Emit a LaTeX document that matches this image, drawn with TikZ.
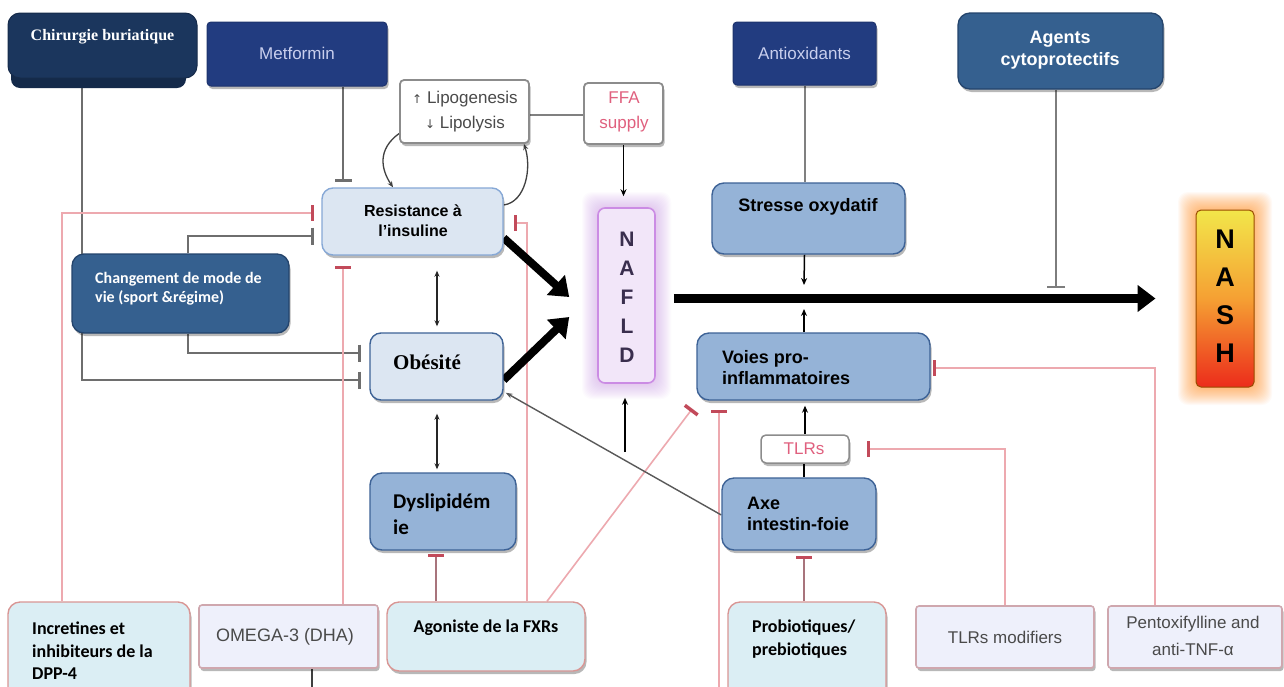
\documentclass[tikz,border=0pt]{standalone}
\usepackage{fontspec}
\usetikzlibrary{arrows.meta,shadows}
\newfontfamily\arialF{Liberation Sans}
\newfontfamily\timesF{Liberation Serif}
\newfontfamily\calF{Carlito}
\newfontfamily\symF{DejaVu Sans}

\pgfdeclarelayer{bg}
\pgfdeclarelayer{lines}
\pgfsetlayers{bg,lines,main}

\definecolor{navyA}{HTML}{1B365D}
\definecolor{navyS}{HTML}{142A4A}
\definecolor{royal}{HTML}{223C80}
\definecolor{royalT}{HTML}{C9CFEE}
\definecolor{steel}{HTML}{35608F}
\definecolor{steelD}{HTML}{24446C}
\definecolor{paleB}{HTML}{DCE6F2}
\definecolor{paleBD}{HTML}{86A8D6}
\definecolor{midB}{HTML}{95B3D7}
\definecolor{midBD}{HTML}{3D6296}
\definecolor{cyanL}{HTML}{DBEEF4}
\definecolor{rose}{HTML}{D99694}
\definecolor{lav}{HTML}{EEF0FB}
\definecolor{lavD}{HTML}{CFA7AE}
\definecolor{inhG}{HTML}{6E6E6E}
\definecolor{pinkL}{HTML}{EDA9AF}
\definecolor{pinkD}{HTML}{A8747C}
\definecolor{barR}{HTML}{C24A5A}
\definecolor{ffaP}{HTML}{E0607E}
\definecolor{naf}{HTML}{F2E6F9}
\definecolor{nafD}{HTML}{CB8CE4}
\definecolor{nafT}{HTML}{3A2E4E}
\definecolor{grayT}{HTML}{4A4A4A}
\definecolor{nashY}{HTML}{F2E64A}
\definecolor{nashO}{HTML}{F5A033}
\definecolor{nashR}{HTML}{EC2C1B}

\begin{document}
\begin{tikzpicture}[x=1pt,y=-1pt,
  softshadow/.style={drop shadow={shadow xshift=1.5pt,shadow yshift=-3pt,opacity=.28,fill=black}},
  navybox/.style={fill=navyA, draw=navyA!80!black, line width=1pt, rounded corners=12pt},
  royalbox/.style={fill=royal, draw=royal!85!black, line width=1pt, rounded corners=4pt, softshadow},
  steelbox/.style={fill=steel, draw=steelD, line width=1.3pt, rounded corners=12pt, softshadow},
  palebox/.style={fill=paleB, line width=1.4pt, rounded corners=11pt, softshadow},
  midbox/.style={fill=midB, draw=midBD, line width=1.4pt, rounded corners=12pt, softshadow},
  cyanbox/.style={fill=cyanL, draw=rose, line width=1.4pt, rounded corners=12pt, softshadow},
  lavbox/.style={fill=lav, draw=lavD, line width=1.6pt, rounded corners=3pt, softshadow},
  whitebox/.style={fill=white, draw=black!45, line width=1.8pt, rounded corners=4pt, softshadow},
  txt/.style={inner sep=0pt, align=center},
  txtl/.style={inner sep=0pt, align=left},
  arialB/.style={font=\arialF\bfseries\fontsize{18}{21}\selectfont},
  calB/.style={font=\calF\bfseries\fontsize{18}{22.5}\selectfont},
  helv/.style={font=\arialF\fontsize{17}{25}\selectfont},
  inhgray/.style={draw=inhG, line width=2.2pt, -{Bar[width=17pt,line width=3pt]}},
  inhpink/.style={draw=pinkL, line width=1.6pt, -{Bar[width=16pt,line width=3.5pt,color=barR]}},
  blkarrow/.style={draw=black, line width=1.5pt, -{Stealth[length=7pt,width=6pt]}},
  dbl/.style={draw=black!85, line width=1.2pt, {Stealth[length=6pt,width=5pt]}-{Stealth[length=6pt,width=5pt]}},
  fat/.style={draw=black, line width=8pt, -{Triangle[length=18pt,width=26pt]}},
]
\useasboundingbox (0,0) rectangle (1284,686);

\begin{pgfonlayer}{bg}
  \fill[white] (0,0) rectangle (1284,686);
  % soft halo round NAFLD
  \foreach \g in {1,...,16}{
    \fill[nafD, opacity=0.03, rounded corners=10pt] (598-\g,208-\g) rectangle (655+\g,383+\g);
  }
  % soft halo round NASH
  \foreach \g in {1,...,18}{
    \fill[orange, opacity=0.035, rounded corners=10pt] (1196-\g,210-\g) rectangle (1254+\g,387+\g);
  }
\end{pgfonlayer}

% free ends of connectors
\coordinate (cytoT) at (1056,288);
\coordinate (oxA) at (804,285);
\coordinate (oxB) at (804,309);
\coordinate (nfb) at (625,452);
\coordinate (loopL) at (312,690);
\coordinate (loopR) at (719,690);

% ---------- top row ----------
\fill[navyS, rounded corners=9pt] (11,40) rectangle (186,88);
\node[navybox, minimum width=189pt, minimum height=65pt] (chir) at (102.5,45.5) {};
\node[txt, text=white, font=\timesF\bfseries\fontsize{16}{19}\selectfont] (chirT) at (102.5,37) {Chirurgie buriatique};

\node[royalbox, minimum width=180pt, minimum height=64pt] (met) at (297,54) {};
\node[txt, text=royalT, helv] (metT) at (297,53) {Metformin};

\node[whitebox, minimum width=129pt, minimum height=63pt] (lipo) at (464.5,111.5) {};
\node[txt, text=grayT, font=\arialF\fontsize{17}{25}\selectfont] (lipoT) at (465,112)
  {{\symF\fontsize{12}{12}\selectfont↑} Lipogenesis\\{\symF\fontsize{12}{12}\selectfont↓} Lipolysis};

\node[whitebox, minimum width=79pt, minimum height=61pt] (ffa) at (623.5,113.5) {};
\node[txt, text=ffaP, font=\arialF\fontsize{17}{25}\selectfont] (ffaT) at (624,112) {FFA\\supply};

\node[royalbox, minimum width=143pt, minimum height=63pt] (anti) at (804.5,53.5) {};
\node[txt, text=royalT, helv] (antiT) at (804.5,53) {Antioxidants};

\node[steelbox, minimum width=205pt, minimum height=76pt] (agents) at (1060.5,51) {};
\node[txt, text=white, font=\arialF\bfseries\fontsize{18}{22}\selectfont] (agentsT) at (1060,50) {Agents\\cytoprotectifs};

% ---------- middle ----------
\node[palebox, draw=paleBD, minimum width=181pt, minimum height=67pt] (res) at (412.5,221.5) {};
\node[txt, font=\arialF\bfseries\fontsize{16}{20}\selectfont] (resT) at (413,221) {Resistance à\\l’insuline};

\node[fill=naf, draw=nafD, line width=1.6pt, rounded corners=7pt, minimum width=57pt, minimum height=175pt] (nafld) at (626.5,295.5) {};
\node[txt, text=nafT, font=\arialF\bfseries\fontsize{21}{29}\selectfont] (nafldT) at (627,297) {N\\A\\F\\L\\D};

\node[midbox, minimum width=193pt, minimum height=71pt] (stress) at (808.5,218.5) {};
\node[txt, arialB] (stressT) at (808,207) {Stresse oxydatif};

\node[draw=orange!60!black, line width=1pt, rounded corners=5pt, top color=nashY, bottom color=nashR, middle color=nashO,
      minimum width=58pt, minimum height=177pt] (nash) at (1225,298.5) {};
\node[txt, font=\arialF\bfseries\fontsize{27}{38}\selectfont] (nashT) at (1225,296) {N\\A\\S\\H};

\node[steelbox, minimum width=217pt, minimum height=79pt] (chg) at (180.5,293.5) {};
\node[txtl, anchor=west, text=white, font=\calF\bfseries\fontsize{16}{19}\selectfont] (chgT) at (95,288.5) {Changement de mode de\\vie (sport \&régime)};

\node[palebox, draw=midBD, minimum width=133pt, minimum height=67pt] (ob) at (436.5,366.5) {};
\node[txt, font=\timesF\bfseries\fontsize{21}{24}\selectfont] (obT) at (427,362) {Obésité};

\node[midbox, minimum width=233pt, minimum height=67pt] (voies) at (813.5,366.5) {};
\node[txtl, anchor=west, arialB] (voiesT) at (722,368) {Voies pro-\\inflammatoires};

\node[whitebox, line width=1.5pt, rounded corners=5pt, minimum width=88pt, minimum height=28pt] (tlrs) at (805,449) {};
\node[txt, text=ffaP, helv] (tlrsT) at (804,449) {TLRs};

\node[midbox, minimum width=154pt, minimum height=72pt] (axe) at (799,514) {};
\node[txtl, anchor=west, arialB] (axeT) at (747,514) {Axe\\intestin-foie};

\node[midbox, minimum width=146pt, minimum height=77pt] (dys) at (443,511.5) {};
\node[txtl, anchor=west, font=\calF\bfseries\fontsize{21}{26}\selectfont] (dysT) at (393,514) {Dyslipidém\\ie};

% ---------- bottom row ----------
\node[cyanbox, minimum width=182pt, minimum height=98pt] (inc) at (99,651) {};
\node[txtl, anchor=west, calB] (incT) at (32,651) {Incretines et\\inhibiteurs de la\\DPP-4};

\node[lavbox, minimum width=179pt, minimum height=63pt] (omega) at (288.5,636.5) {};
\node[txt, text=grayT, font=\arialF\fontsize{18}{22}\selectfont] (omegaT) at (285,637) {OMEGA-3 (DHA)};

\node[cyanbox, minimum width=198pt, minimum height=69pt] (ago) at (486,636.5) {};
\node[txt, calB] (agoT) at (486,628) {Agoniste de la FXRs};

\node[cyanbox, minimum width=158pt, minimum height=98pt] (pro) at (807,651) {};
\node[txtl, anchor=west, calB] (proT) at (752,639) {Probiotiques/\\prebiotiques};

\node[lavbox, minimum width=178pt, minimum height=62pt] (tlrm) at (1005,637) {};
\node[txt, text=grayT, helv] (tlrmT) at (1005,637) {TLRs modifiers};

\node[lavbox, minimum width=174pt, minimum height=62pt] (pent) at (1195,637) {};
\node[txt, text=grayT, font=\arialF\fontsize{17}{27}\selectfont] (pentT) at (1193,636) {Pentoxifylline and\\anti-TNF-α};

% ---------- connectors ----------
\begin{pgfonlayer}{lines}
  % grey inhibitions
  \draw[inhgray, shorten >=8pt] ([xshift=-20.5pt]chir.south) |- ([yshift=-13.5pt]ob.west);
  \draw[inhgray, shorten >=8pt] ([xshift=7.5pt]chg.south) |- ([yshift=13.5pt]ob.west);
  \draw[inhgray, shorten >=7pt] ([xshift=7.5pt]chg.north) |- ([yshift=-14.5pt]res.west);
  \draw[inhgray, shorten >=5pt] ([xshift=46pt]met.south) -- ([xshift=-69.5pt]res.north);
  \draw[draw=inhG!90, line width=2pt, -{Bar[width=18pt,line width=2.5pt]}] ([xshift=-4.5pt]agents.south) -- (cytoT);
  \draw[draw=black!50, line width=2pt] ([xshift=0.5pt]anti.south) -- ([xshift=-3.5pt]stress.north);
  \draw[draw=black!50, line width=2pt] ([yshift=-3.5pt]lipo.east) -- ([yshift=-1.5pt]ffa.west);

  % pink inhibitions
  \draw[inhpink, shorten >=7pt] ([xshift=-37pt]inc.north) |- ([yshift=8.5pt]res.west);
  \draw[inhpink, shorten >=10pt] ([xshift=54.5pt]omega.north) -- ([xshift=-69.5pt]res.south);
  \draw[inhpink, shorten >=10pt] ([xshift=41pt]ago.north) |- ([yshift=-1.5pt]res.east);
  \draw[inhpink, draw=pinkD, shorten >=3pt] ([xshift=-50pt]ago.north) -- ([xshift=-7pt]dys.south);
  \draw[inhpink] ([xshift=61pt]ago.north) -- ([xshift=-4pt,yshift=-8pt]voies.south west);
  \draw[inhpink, shorten >=9pt] (loopR) -- ([xshift=-94.5pt]voies.south);
  \draw[inhpink, draw=pinkD, shorten >=5pt] ([xshift=-3pt]pro.north) -- ([xshift=5pt]axe.south);
  \draw[inhpink, shorten >=17pt] (tlrm.north) |- (tlrs.east);
  \draw[inhpink, shorten >=2pt] ([xshift=-40pt]pent.north) |- ([yshift=-1.5pt]voies.east);
  \draw[draw=black!75, line width=1.5pt] ([xshift=23.5pt]omega.south) -- (loopL);

  % black arrows
  \draw[blkarrow, shorten >=11pt] (ffa.south) -- (ffa.south |- nafld.north);
  \draw[draw=black!75, line width=1.3pt, -{Stealth[length=6pt,width=5pt]}]
    ([yshift=-22pt]lipo.west) .. controls +(-22,16) and +(-12,-18) .. ([xshift=-19.5pt]res.north);
  \draw[draw=black!75, line width=1.3pt, -{Stealth[length=6pt,width=5pt]}]
    ([yshift=16.5pt]res.east) .. controls +(22,-3) and +(8,24) .. ([xshift=-6pt]lipo.south east);
  \draw[dbl, shorten <=15pt, shorten >=6pt] ([xshift=24.5pt]res.south) -- ([xshift=0.5pt]ob.north);
  \draw[dbl, shorten <=13pt, shorten >=3pt] ([xshift=0.5pt]ob.south) -- ([xshift=-6pt]dys.north);
  \draw[fat] ([yshift=-16.5pt]res.east) -- ([xshift=-28pt,yshift=-1.5pt]nafld.west);
  \draw[fat] ([yshift=-13.5pt]ob.east) -- ([xshift=-28pt,yshift=-21.5pt]nafld.west);
  \draw[draw=black, line width=9pt, -{Triangle[length=18pt,width=26pt]}] ([xshift=18pt,yshift=-3pt]nafld.east) -- ([xshift=-40pt]nash.west);
  \draw[blkarrow] ([xshift=-4pt]stress.south) -- (oxA);
  \draw[blkarrow] ([xshift=-9.5pt]voies.north) -- (oxB);
  \draw[blkarrow, shorten >=5pt] (tlrs.north) -- (tlrs.north |- voies.south);
  \draw[draw=black, line width=1.5pt] ([xshift=5pt]axe.north) -- ([xshift=-1pt]tlrs.south);
  \draw[draw=black!65, line width=1.4pt, -{Stealth[length=7pt,width=5pt]}] ([yshift=-1pt]axe.west) -- ([xshift=2pt,yshift=8pt]ob.south east);
  \draw[blkarrow, shorten >=14pt] (nfb) -- (nfb |- nafld.south);
\end{pgfonlayer}
\end{tikzpicture}
\end{document}
